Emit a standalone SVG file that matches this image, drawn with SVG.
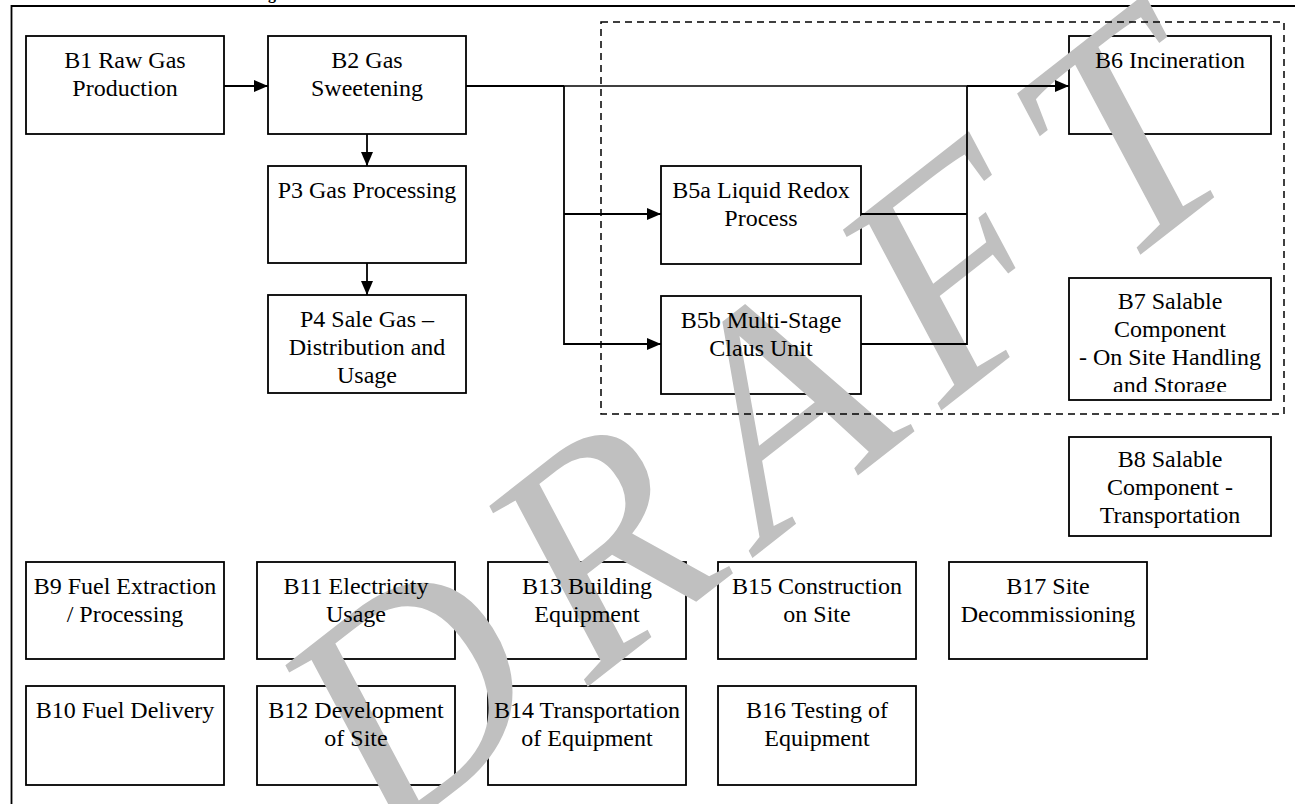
<svg xmlns="http://www.w3.org/2000/svg" width="1295" height="804" viewBox="0 0 1295 804">
<style>
.box{fill:#fff;stroke:#000;stroke-width:1.8}
.t{font-size:24px;fill:#000;text-anchor:middle}
.c{fill:none;stroke:#000;stroke-width:1.8}
.ct{fill:none;stroke:#000;stroke-width:1.3}
.wm{font-style:italic;font-size:310px;letter-spacing:35px;fill:#c0c0c0}
</style>
<defs>
<marker id="ah" viewBox="0 0 14 12" refX="14" refY="6" markerWidth="14" markerHeight="12" markerUnits="userSpaceOnUse" orient="auto">
<path d="M0,0 L14,6 L0,12 Z" fill="#000"/>
</marker>
<clipPath id="b7clip"><rect x="1069" y="278" width="202" height="114"/></clipPath>
</defs>
<rect x="0" y="0" width="1295" height="804" fill="#fff"/>
<g font-family="'Liberation Serif', 'Times New Roman', Times, 'DejaVu Serif', serif">
<text x="268" y="-1" font-weight="bold" font-size="16">g</text>
<path d="M11.5,804 L11.5,6 L1295,6" fill="none" stroke="#000" stroke-width="1.8"/>
<g id="boxes">
<rect class="box" x="26" y="36" width="198" height="98"/>
<rect class="box" x="268" y="36" width="198" height="98"/>
<rect class="box" x="268" y="166" width="198" height="97"/>
<rect class="box" x="268" y="295" width="198" height="98"/>
<rect class="box" x="661" y="166" width="200" height="98"/>
<rect class="box" x="661" y="296" width="200" height="98"/>
<rect class="box" x="1069" y="36" width="202" height="98"/>
<rect class="box" x="1069" y="278" width="202" height="122"/>
<rect class="box" x="1069" y="437" width="202" height="99"/>
<rect class="box" x="26" y="562" width="198" height="97"/>
<rect class="box" x="257" y="562" width="198" height="97"/>
<rect class="box" x="488" y="562" width="198" height="97"/>
<rect class="box" x="718" y="562" width="198" height="97"/>
<rect class="box" x="949" y="562" width="198" height="97"/>
<rect class="box" x="26" y="686" width="198" height="99"/>
<rect class="box" x="257" y="686" width="198" height="99"/>
<rect class="box" x="488" y="686" width="198" height="99"/>
<rect class="box" x="718" y="686" width="198" height="99"/>
</g>
<text class="wm" transform="translate(385,845) rotate(-38)">DRAFT</text>
<rect x="601" y="22" width="683" height="392" fill="none" stroke="#000" stroke-width="1.5" stroke-dasharray="7,5"/>
<g id="connectors">
<path class="c" d="M224,86 L268,86" marker-end="url(#ah)"/>
<path class="c" d="M367,134 L367,166" marker-end="url(#ah)"/>
<path class="c" d="M367,263 L367,295" marker-end="url(#ah)"/>
<path class="c" d="M466,86 L564,86"/>
<path class="ct" d="M564,86 L967,86"/>
<path class="c" d="M967,86 L1069,86" marker-end="url(#ah)"/>
<path class="c" d="M564,86 L564,344 L661,344" marker-end="url(#ah)"/>
<path class="c" d="M564,214 L661,214" marker-end="url(#ah)"/>
<path class="c" d="M861,214 L967,214"/>
<path class="c" d="M861,344 L967,344 L967,86"/>
</g>
<g id="n-B1"><text class="t" x="125" y="68">B1 Raw Gas</text><text class="t" x="125" y="96">Production</text></g>
<g id="n-B2"><text class="t" x="367" y="68">B2 Gas</text><text class="t" x="367" y="96">Sweetening</text></g>
<g id="n-P3"><text class="t" x="367" y="198">P3 Gas Processing</text></g>
<g id="n-P4"><text class="t" x="367" y="327">P4 Sale Gas –</text><text class="t" x="367" y="355">Distribution and</text><text class="t" x="367" y="383">Usage</text></g>
<g id="n-B5a"><text class="t" x="761" y="198">B5a Liquid Redox</text><text class="t" x="761" y="226">Process</text></g>
<g id="n-B5b"><text class="t" x="761" y="328">B5b Multi-Stage</text><text class="t" x="761" y="356">Claus Unit</text></g>
<g id="n-B6"><text class="t" x="1170" y="68">B6 Incineration</text></g>
<g id="n-B7" clip-path="url(#b7clip)"><text class="t" x="1170" y="309">B7 Salable</text><text class="t" x="1170" y="337">Component</text><text class="t" x="1170" y="365">- On Site Handling</text><text class="t" x="1170" y="393">and Storage</text></g>
<g id="n-B8"><text class="t" x="1170" y="467">B8 Salable</text><text class="t" x="1170" y="495">Component -</text><text class="t" x="1170" y="523">Transportation</text></g>
<g id="n-B9"><text class="t" x="125" y="594">B9 Fuel Extraction</text><text class="t" x="125" y="622">/ Processing</text></g>
<g id="n-B11"><text class="t" x="356" y="594">B11 Electricity</text><text class="t" x="356" y="622">Usage</text></g>
<g id="n-B13"><text class="t" x="587" y="594">B13 Building</text><text class="t" x="587" y="622">Equipment</text></g>
<g id="n-B15"><text class="t" x="817" y="594">B15 Construction</text><text class="t" x="817" y="622">on Site</text></g>
<g id="n-B17"><text class="t" x="1048" y="594">B17 Site</text><text class="t" x="1048" y="622">Decommissioning</text></g>
<g id="n-B10"><text class="t" x="125" y="718">B10 Fuel Delivery</text></g>
<g id="n-B12"><text class="t" x="356" y="718">B12 Development</text><text class="t" x="356" y="746">of Site</text></g>
<g id="n-B14"><text class="t" x="587" y="718">B14 Transportation</text><text class="t" x="587" y="746">of Equipment</text></g>
<g id="n-B16"><text class="t" x="817" y="718">B16 Testing of</text><text class="t" x="817" y="746">Equipment</text></g>
</g>
</svg>
